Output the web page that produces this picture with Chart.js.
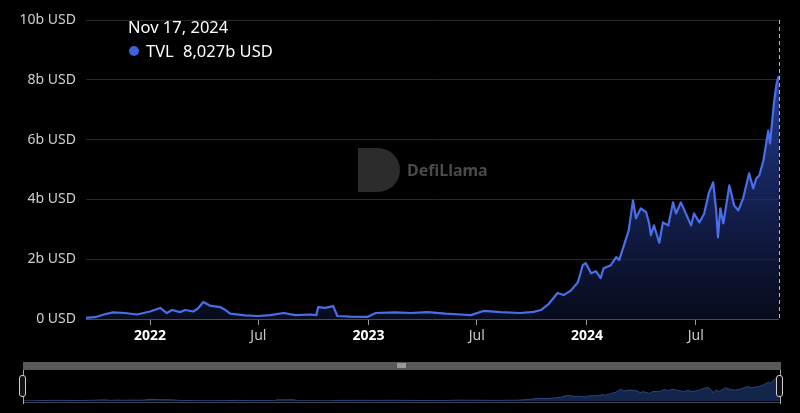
<!DOCTYPE html>
<html>
<head>
<meta charset="utf-8">
<script src="https://cdn.jsdelivr.net/npm/chart.js@4/dist/chart.umd.min.js"></script>
<style>
    html, body { margin: 0; padding: 0; background: #000; }
    #wrap { position: relative; width: 800px; height: 413px; overflow: hidden; }
    #mainBox { position: absolute; left: 0; top: 0; width: 800px; height: 350px; }
    #sliderBar { position: absolute; left: 23px; top: 362px; width: 758px; height: 8px; background: #595959; }
    #sliderGrip { position: absolute; left: 374px; top: 1px; width: 9px; height: 5px; background: #9a9a9a; }
    #sliderBottom { position: absolute; left: 23px; top: 402px; width: 758px; height: 1px; background: #444; }
    #miniBox { position: absolute; left: 23px; top: 370px; width: 757px; height: 31px; }
    .handleLine { position: absolute; top: 370px; width: 1px; height: 34px; background: #aaa; }
    .handle { position: absolute; top: 375px; width: 5px; height: 20px; border: 1.5px solid #cfcfcf; border-radius: 3px; background: #111; }
</style>
</head>
<body>
<div id="wrap">
    <div id="mainBox"><canvas id="tvlChart" width="800" height="350"></canvas></div>
    <div id="sliderBar"><div id="sliderGrip"></div></div>
    <div id="miniBox"><canvas id="miniChart" width="757" height="31"></canvas></div>
    <div id="sliderBottom"></div>
    <div class="handleLine" style="left:23px"></div>
    <div class="handle" style="left:19px"></div>
    <div class="handleLine" style="left:780px"></div>
    <div class="handle" style="left:776px"></div>
</div>
<script>
// TVL in billions of USD
const dates = [
    "2021-09-16", "2021-10-01", "2021-10-16", "2021-10-31", "2021-11-20", "2021-12-10",
    "2022-01-01", "2022-01-18", "2022-01-29", "2022-02-07", "2022-02-20", "2022-03-01",
    "2022-03-14", "2022-03-22", "2022-03-31", "2022-04-11", "2022-04-28", "2022-05-07",
    "2022-05-15", "2022-06-09", "2022-07-01", "2022-07-21", "2022-08-12", "2022-09-01",
    "2022-09-26", "2022-10-06", "2022-10-09", "2022-10-21", "2022-11-03", "2022-11-10",
    "2022-12-02", "2022-12-30", "2023-01-13", "2023-02-15", "2023-03-12", "2023-04-10",
    "2023-05-10", "2023-06-04", "2023-06-21", "2023-07-12", "2023-08-10", "2023-09-12",
    "2023-10-04", "2023-10-16", "2023-10-29", "2023-11-13", "2023-11-23", "2023-12-05",
    "2023-12-17", "2023-12-25", "2023-12-30", "2024-01-08", "2024-01-16", "2024-01-24",
    "2024-01-29", "2024-02-10", "2024-02-19", "2024-02-24", "2024-03-03", "2024-03-11",
    "2024-03-18", "2024-03-23", "2024-03-31", "2024-04-09", "2024-04-14", "2024-04-17",
    "2024-04-22", "2024-05-01", "2024-05-07", "2024-05-16", "2024-05-24", "2024-05-29",
    "2024-06-06", "2024-06-15", "2024-06-23", "2024-06-28", "2024-07-07", "2024-07-15",
    "2024-07-23", "2024-07-30", "2024-08-04", "2024-08-07", "2024-08-11", "2024-08-16",
    "2024-08-26", "2024-09-03", "2024-09-10", "2024-09-18", "2024-09-28", "2024-10-05",
    "2024-10-10", "2024-10-15", "2024-10-22", "2024-10-30", "2024-11-02", "2024-11-09",
    "2024-11-13", "2024-11-16", "2024-11-17"
];

const tvl = [
    0.04, 0.06, 0.15, 0.22, 0.20, 0.15,
    0.25, 0.37, 0.20, 0.30, 0.23, 0.30,
    0.25, 0.35, 0.57, 0.45, 0.40, 0.30,
    0.18, 0.12, 0.10, 0.13, 0.20, 0.13,
    0.15, 0.13, 0.40, 0.37, 0.43, 0.10,
    0.08, 0.07, 0.20, 0.22, 0.20, 0.23,
    0.18, 0.15, 0.13, 0.27, 0.23, 0.20,
    0.24, 0.30, 0.50, 0.87, 0.80, 0.95,
    1.23, 1.80, 1.87, 1.53, 1.60, 1.37,
    1.70, 1.80, 2.07, 1.97, 2.47, 2.97,
    3.97, 3.37, 3.70, 3.57, 3.20, 2.80,
    3.13, 2.55, 3.23, 3.13, 3.90, 3.53,
    3.90, 3.50, 3.13, 3.53, 3.23, 3.53,
    4.23, 4.57, 3.63, 2.73, 3.70, 3.20,
    4.47, 3.80, 3.63, 4.03, 4.87, 4.37,
    4.70, 4.80, 5.30, 6.30, 5.87, 7.30,
    7.87, 8.10, 8.027
];

const tickDates = ["2022-01-01", "2022-07-01", "2023-01-01", "2023-07-01", "2024-01-01", "2024-07-01"];
const tickLabels = ["2022", "Jul", "2023", "Jul", "2024", "Jul"];
const yTicks = [0, 2, 4, 6, 8, 10];
const seriesName = "TVL";

const FONT = "'Noto Sans', 'Open Sans', sans-serif";
const LINE_BLUE = "#4a6ee8";

let mainChart = null;
let miniChart = null;

function dayOf(s) {
    return Date.parse(s + "T00:00:00Z") / 86400000;
}

function formatUsd(v) {
    if (v === 0)
        return "0 USD";
    return v + "b USD";
}

function formatDate(s) {
    return new Date(s + "T00:00:00Z").toLocaleDateString("en-US", {
        month: "short", day: "numeric", year: "numeric", timeZone: "UTC"
    });
}

const points = dates.map((d, i) => ({ x: dayOf(d), y: tvl[i] }));
const xMin = dayOf(dates[0]);
const xMax = dayOf(dates[dates.length - 1]);

// faded logo + name in the middle of the plot
const watermark = {
    id: "watermark",
    beforeDatasetsDraw(chart) {
        const c = chart.ctx;
        c.save();
        c.fillStyle = "#2c2c2c";
        c.beginPath();
        c.moveTo(358, 148);
        c.lineTo(378, 148);
        c.arc(378, 170, 22, -Math.PI / 2, Math.PI / 2);
        c.lineTo(358, 192);
        c.closePath();
        c.fill();
        c.fillStyle = "#4a4a4a";
        c.font = "bold 16px " + FONT;
        c.textBaseline = "middle";
        c.fillText("DefiLlama", 407, 171);
        c.restore();
    }
};

// hover readout at the last point: dashed crosshair + label top left
const hoverReadout = {
    id: "hoverReadout",
    afterDraw(chart) {
        const c = chart.ctx;
        const area = chart.chartArea;
        const last = points.length - 1;
        const px = chart.scales.x.getPixelForValue(points[last].x);

        c.save();
        c.strokeStyle = "#bdbdbd";
        c.lineWidth = 1;
        c.setLineDash([4, 3]);
        c.beginPath();
        c.moveTo(Math.round(px) + 0.5, area.top);
        c.lineTo(Math.round(px) + 0.5, area.bottom);
        c.stroke();
        c.setLineDash([]);

        c.fillStyle = "#ffffff";
        c.font = "16.5px " + FONT;
        c.textBaseline = "alphabetic";
        c.fillText(formatDate(dates[last]), 128, 33);

        c.fillStyle = "#3d63dd";
        c.beginPath();
        c.arc(134, 51, 5, 0, Math.PI * 2);
        c.fill();

        c.fillStyle = "#ffffff";
        const val = tvl[last].toFixed(3).replace(".", ",") + "b USD";
        c.fillText(seriesName, 146, 57);
        c.fillText(val, 183, 57);
        c.restore();
    }
};

document.addEventListener("DOMContentLoaded", () => {
    renderMainChart();
    renderMiniChart();
});

function renderMainChart() {
    const ctx = document.getElementById("tvlChart").getContext("2d");

    if (mainChart)
        mainChart.destroy();

    mainChart = new Chart(ctx, {
        type: "line",
        data: {
            datasets: [{
                label: seriesName,
                data: points,
                borderColor: LINE_BLUE,
                borderWidth: 2.2,
                borderJoinStyle: "round",
                pointRadius: 0,
                tension: 0,
                fill: "origin",
                backgroundColor: (context) => {
                    const area = context.chart.chartArea;
                    if (!area)
                        return "rgba(50,80,190,0.5)";
                    const g = context.chart.ctx.createLinearGradient(0, area.top, 0, area.bottom);
                    g.addColorStop(0, "rgba(55,88,205,0.95)");
                    g.addColorStop(0.45, "rgba(34,56,140,0.75)");
                    g.addColorStop(1, "rgba(14,20,50,0.6)");
                    return g;
                }
            }]
        },
        options: {
            responsive: false,
            animation: false,
            events: [],
            layout: {
                padding: { left: 0, right: 21, top: 20, bottom: 0 }
            },
            scales: {
                x: {
                    type: "linear",
                    min: xMin,
                    max: xMax,
                    afterBuildTicks: (scale) => {
                        scale.ticks = tickDates.map(d => ({ value: dayOf(d) }));
                    },
                    afterFit: (scale) => { scale.height = 31; },
                    grid: {
                        drawOnChartArea: false,
                        drawTicks: true,
                        tickLength: 6,
                        color: "#9a9a9a"
                    },
                    border: { display: false },
                    ticks: {
                        autoSkip: false,
                        maxRotation: 0,
                        padding: 3,
                        callback: (value, index) => tickLabels[index],
                        color: (c) => c.index % 2 === 0 ? "#ffffff" : "#c8c8c8",
                        font: (c) => ({
                            family: FONT,
                            size: 14,
                            weight: c.index % 2 === 0 ? "bold" : "normal"
                        })
                    }
                },
                y: {
                    min: 0,
                    max: 10,
                    afterBuildTicks: (scale) => {
                        scale.ticks = yTicks.map(v => ({ value: v }));
                    },
                    afterFit: (scale) => { scale.width = 86; },
                    grid: {
                        drawTicks: false,
                        color: (c) => c.tick && c.tick.value === 0 ? "#4a4a4a" : "#282828"
                    },
                    border: { display: false },
                    ticks: {
                        padding: 10,
                        color: "#d0d0d0",
                        font: { family: FONT, size: 14 },
                        callback: (value) => formatUsd(value)
                    }
                }
            },
            plugins: {
                legend: { display: false },
                tooltip: { enabled: false }
            }
        },
        plugins: [watermark, hoverReadout]
    });
}

function renderMiniChart() {
    const ctx = document.getElementById("miniChart").getContext("2d");

    if (miniChart)
        miniChart.destroy();

    miniChart = new Chart(ctx, {
        type: "line",
        data: {
            datasets: [{
                data: points,
                borderColor: "#2a4680",
                borderWidth: 1,
                pointRadius: 0,
                fill: "origin",
                backgroundColor: "rgba(24,44,88,0.85)"
            }]
        },
        options: {
            responsive: false,
            animation: false,
            events: [],
            layout: { padding: 0 },
            scales: {
                x: { type: "linear", display: false, min: xMin, max: xMax },
                y: { display: false, min: 0, max: 10.4 }
            },
            plugins: {
                legend: { display: false },
                tooltip: { enabled: false }
            }
        }
    });
}
</script>
</body>
</html>
